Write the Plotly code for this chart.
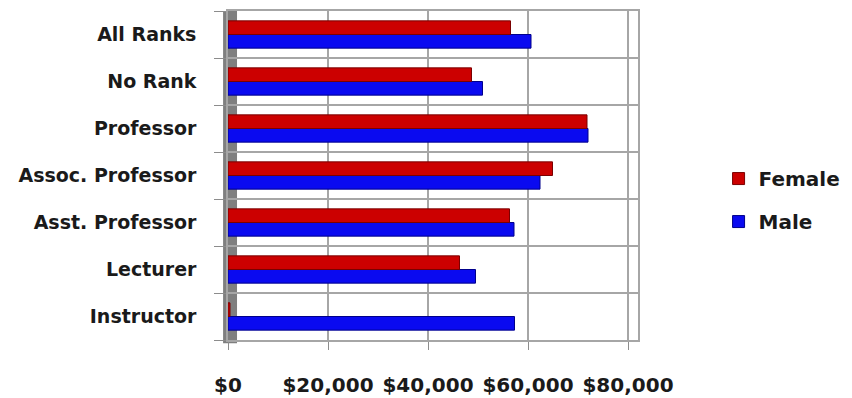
import plotly.graph_objects as go

# ranks listed bottom to top, as they appear on the chart
ranks = ["Instructor", "Lecturer", "Asst. Professor", "Assoc. Professor",
         "Professor", "No Rank", "All Ranks"]
female = [400, 46300, 56300, 64900, 71800, 48700, 56500]
male = [57300, 49500, 57200, 62400, 72000, 50900, 60600]
xticks = [0, 20000, 40000, 60000, 80000]
xtick_text = ["$0", "$20,000", "$40,000", "$60,000", "$80,000"]

font = "DejaVu Sans"

fig = go.Figure()
# male first so that female sits above it inside each group
fig.add_bar(y=ranks, x=male, name="Male", orientation="h", legendgroup="m",
            legendrank=2,
            marker=dict(color="#0a0af0", line=dict(color="#00008b", width=1)))
fig.add_bar(y=ranks, x=female, name="Female", orientation="h", legendgroup="f",
            legendrank=1,
            marker=dict(color="#cc0000", line=dict(color="#7a0000", width=1)))

# grey side wall of the 3d frame
fig.add_shape(type="rect", xref="paper", yref="paper", x0=-0.012, x1=0.022,
              y0=-0.01, y1=1.0, fillcolor="#7f7f7f", line=dict(width=0),
              layer="below")

fig.update_layout(
    width=852, height=398,
    margin=dict(l=220, r=222, t=3, b=66, autoexpand=False),
    paper_bgcolor="white", plot_bgcolor="white",
    barmode="group", bargap=0.42, bargroupgap=0.0,
    font=dict(family=font, size=17, color="#1a1a1a"),
    legend=dict(xref="container", x=0.834, y=0.55, xanchor="left",
                yanchor="top", traceorder="grouped", tracegroupgap=14,
                font=dict(size=20, family=font, weight="bold")),
    xaxis=dict(range=[0, 82000], tickvals=xticks, ticktext=xtick_text,
               automargin=False,
               showgrid=True, gridcolor="#a6a6a6", gridwidth=1.5,
               zeroline=False, showline=True, linecolor="#a6a6a6",
               linewidth=1.5, mirror=True, ticks="outside", ticklen=8,
               tickcolor="#8c8c8c", ticklabelstandoff=18,
               tickfont=dict(size=20, family=font, weight="bold")),
    yaxis=dict(categoryorder="array", categoryarray=ranks, automargin=False,
               showgrid=True, gridcolor="#a6a6a6", gridwidth=1.5,
               tickson="boundaries", ticks="outside", ticklen=12,
               tickcolor="#8c8c8c", showline=True, linecolor="#a6a6a6",
               linewidth=1.5, mirror=True, ticklabelstandoff=26,
               tickfont=dict(size=19, family=font, weight="bold")),
)

fig.write_html("out.html")
